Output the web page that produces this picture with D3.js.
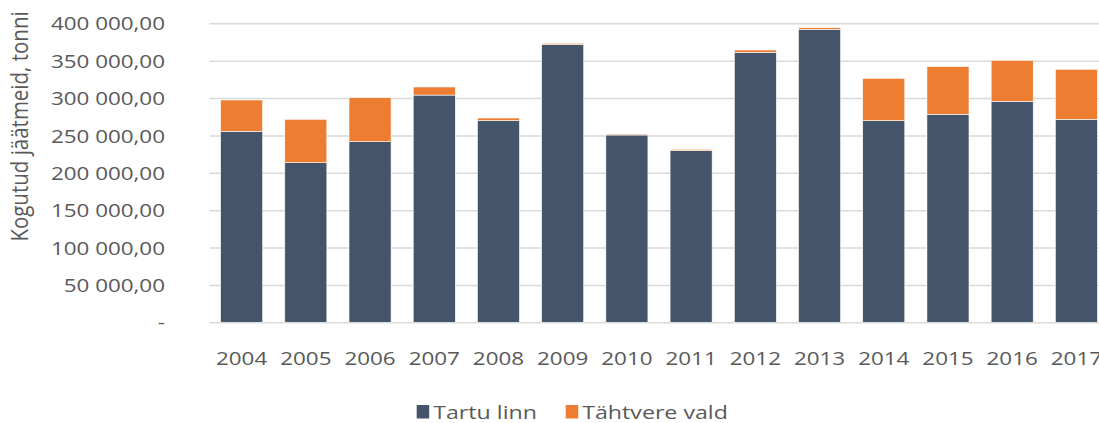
<!DOCTYPE html>
<html>
<head>
<meta charset="utf-8">
<script src="https://cdn.jsdelivr.net/npm/d3@7"></script>
<style>
  body { margin: 0; background: #fff; overflow: hidden; }
  text { font-family: "Open Sans", sans-serif; fill: #595959; }
</style>
</head>
<body>
<div id="chart"></div>
<script>
// data (tonnes)
let years = ['2004', '2005', '2006', '2007', '2008', '2009', '2010', '2011', '2012', '2013', '2014', '2015', '2016', '2017'];
let tartuLinn = [255500, 213500, 241600, 304000, 269700, 371400, 250600, 229600, 361200, 392000, 269700, 278300, 295700, 271600];
let tahtvereVald = [41900, 58100, 58900, 10800, 3600, 1800, 1300, 1800, 3100, 2100, 56700, 63700, 54800, 66900];
let yTicks = [0, 50000, 100000, 150000, 200000, 250000, 300000, 350000, 400000];
let seriesNames = ['Tartu linn', 'Tähtvere vald'];

let W = 1099, H = 423;
let colors = ['#44546a', '#ed7d31'];
let stretch = 1.18; // text in the picture is a bit wider than the font

let svg = d3.select('#chart')
  .append('svg')
  .attr('width', W)
  .attr('height', H);

let x = d3.scaleBand()
  .domain(years)
  .range([209.5, 1108.5])
  .paddingInner(0.345)
  .paddingOuter(0.1725);

let y = d3.scaleLinear()
  .domain([0, 400000])
  .range([322.3, 23.3]);

let table = years.map((yr, i) => ({ year: yr, tartu: tartuLinn[i], tahtvere: tahtvereVald[i] }));
let stack = d3.stack().keys(['tartu', 'tahtvere'])(table);

// gridlines + y labels
let fmt = v => v === 0 ? '-' : d3.format(',.2f')(v).replace(/,/g, ' ').replace('.', ',');
let yAxis = svg.append('g')
  .attr('transform', 'translate(209.5,0)')
  .call(d3.axisLeft(y).tickValues(yTicks).tickSize(-(W - 209.5)).tickFormat(fmt));
yAxis.select('.domain').remove();
yAxis.selectAll('.tick line').attr('stroke', '#d9d9d9').attr('stroke-width', 1.5);
yAxis.selectAll('.tick text')
  .attr('x', 0)
  .attr('dy', '0.35em')
  .attr('transform', `translate(-44.5,0) scale(${stretch},1)`)
  .style('font-size', '19px')
  .style('fill', '#595959');

// bars
svg.append('g')
  .selectAll('g')
  .data(stack)
  .enter().append('g')
  .attr('fill', (d, i) => colors[i])
  .selectAll('rect')
  .data(d => d)
  .enter().append('rect')
  .attr('x', d => x(d.data.year))
  .attr('y', d => y(d[1]))
  .attr('width', x.bandwidth())
  .attr('height', d => y(d[0]) - y(d[1]))
  .attr('stroke', '#ffffff')
  .attr('stroke-width', 0.6);

// x labels
let xAxis = svg.append('g')
  .attr('transform', 'translate(0,322.3)')
  .call(d3.axisBottom(x).tickSize(0));
xAxis.select('.domain').remove();
xAxis.selectAll('.tick text')
  .attr('y', 0)
  .attr('dy', 0)
  .attr('transform', `translate(0,43) scale(${stretch},1)`)
  .attr('x', 0)
  .style('font-size', '19px')
  .style('fill', '#595959');

// y axis title
svg.append('text')
  .attr('transform', `translate(27.5,126.5) rotate(-90) scale(1,${stretch})`)
  .attr('text-anchor', 'middle')
  .style('font-size', '20.5px')
  .text('Kogutud jäätmeid, tonni');

// legend
let legendX = [416.7, 565.7];
let legend = svg.append('g')
  .selectAll('g')
  .data(seriesNames)
  .enter().append('g')
  .attr('transform', (d, i) => `translate(${legendX[i]},405)`);
legend.append('rect')
  .attr('width', 12.5)
  .attr('height', 13.5)
  .attr('fill', (d, i) => colors[i]);
legend.append('text')
  .attr('transform', `translate(16.5,14) scale(1.22,1)`)
  .style('font-size', '19px')
  .text(d => d);
</script>
</body>
</html>
